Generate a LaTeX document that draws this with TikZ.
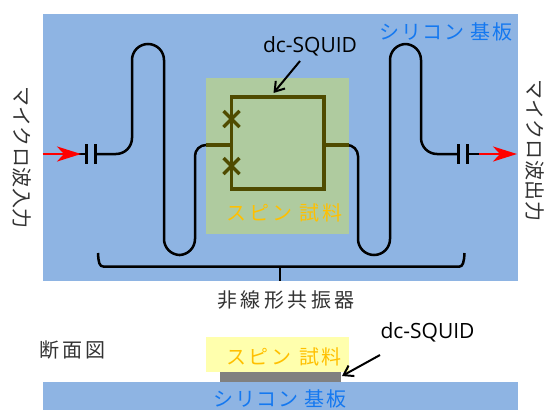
\documentclass[tikz,border=0pt]{standalone}
\usepackage{fontspec}
\setmainfont{Open Sans}
\newfontfamily\jpfont[LetterSpace=14]{Noto Sans CJK JP}
\newfontfamily\jpwide[LetterSpace=18]{Noto Sans CJK JP}
\newfontfamily\jpmid[LetterSpace=8]{Noto Sans CJK JP}
\newfontfamily\jptight[LetterSpace=2]{Noto Sans CJK JP}
\usetikzlibrary{positioning,calc,arrows.meta}
\definecolor{siblue}{HTML}{8EB4E3}
\definecolor{sigreen}{HTML}{AFCB9F}
\definecolor{sampyellow}{HTML}{FFFFAD}
\definecolor{squidolive}{HTML}{4F4B00}
\definecolor{textblue}{HTML}{1478F0}
\definecolor{textorange}{HTML}{FFC000}
\tikzset{
  wire/.style={line width=2.5pt,black},
  loopwire/.style={line width=3.2pt,squidolive},
  plate/.style={line width=3pt,black},
  inarrow/.style={line width=2.7pt,red,-{Stealth[length=24pt,width=15pt,inset=7pt]}},
  leader/.style={line width=2pt,black,-{Straight Barb[length=9pt,width=12pt]}},
  jplabel/.style={font=\fontsize{20}{20}\selectfont\jpfont,inner sep=0pt,text=black!80},
  sidelabel/.style={jplabel,font=\fontsize{20}{20}\selectfont\jptight,rotate=-90},
  sublabel/.style={jplabel,font=\fontsize{20}{20}\selectfont\jpmid,text=textblue},
  samplabel/.style={jplabel,text=textorange},
  squidlabel/.style={font=\fontsize{21}{22}\selectfont,inner sep=0pt,text=black}
}
\begin{document}
\begin{tikzpicture}[x=1pt,y=-1pt]
\useasboundingbox (0,0) rectangle (545,410);
% top view: substrate, sample, then the loop and the two resonator arms
\fill[siblue] (42.5,13.5) rectangle (518,281);
\fill[sigreen] (206,78) rectangle (349,234);
\coordinate (capL) at (96,154);
\coordinate (capR) at (458,154);
\coordinate (tapL) at (231.5,145);
\coordinate (tapR) at (324,145);
\draw[wire,rounded corners=16pt] (capL) -- (132,154) -- (132,44) -- (164,44)
  -- (164,255) -- (195,255) [rounded corners=11pt] -- (195,145) -- (206,145);
\draw[wire,rounded corners=16pt] (capR) -- (421,154) -- (421,44) -- (390,44)
  -- (390,255) -- (358,255) [rounded corners=11pt] -- (358,145) -- (349,145);
\draw[loopwire] (206,145) -- (tapL);
\draw[loopwire] (tapR) -- (349,145);
\draw[loopwire] (231.5,97) rectangle (324,189);
% junctions on the left arm of the loop
\foreach \jy in {119,166}{
  \draw[loopwire] (223.5,\jy-8) -- (239.5,\jy+8);
  \draw[loopwire] (223.5,\jy+8) -- (239.5,\jy-8);
}
% capacitors
\foreach \px in {86,95.5,458,467}{
  \draw[plate] (\px,144) -- (\px,164);
}
\draw[wire] (78,154) -- (86,154);
\draw[wire] (467,154) -- (482,154);
\draw[inarrow] (42.5,154) -- (81,154);
\draw[inarrow] (479,154) -- (517,154);
% brace under the resonator
\coordinate (braceM) at (280,266.7);
\draw[wire] (98,253) .. controls (98.5,262) and (99,266.7) .. (104,266.7) -- (braceM)
  -- (459,266.7) .. controls (463,266.7) and (464,262) .. (464.5,253);
\draw[wire] (braceM) -- (280,281);
\node[sublabel] (subTop) at (446,32) {シリコン 基板};
\node[samplabel] (sampTop) at (284.5,213) {スピン 試料};
\node[squidlabel] (squidTop) at (310,46) {dc-SQUID};
\coordinate (squidTip) at (273.5,93);
\draw[leader] (300,61) -- (squidTip);
\node[sidelabel] (inLab) at (22,157.5) {マイクロ波入力};
\node[sidelabel] (outLab) at (535,150) {マイクロ波出力};
\node[jplabel,font=\fontsize{20}{20}\selectfont\jpwide] (resLab) at (286,300) {非線形共振器};
% cross section
\node[jplabel] (secLab) at (72.5,350) {断面図};
\fill[siblue] (42.5,381.5) rectangle (518,410);
\fill[sampyellow] (206,337) rectangle (349,372);
\fill[black!50] (220,372) rectangle (340.5,381.5);
\node[samplabel] (sampSec) at (284,357) {スピン 試料};
\node[sublabel] (subSec) at (280,399) {シリコン 基板};
\node[squidlabel] (squidSec) at (427.5,332) {dc-SQUID};
\coordinate (squidSecTip) at (342,376);
\draw[leader] (380,355) -- (squidSecTip);
\end{tikzpicture}
\end{document}
